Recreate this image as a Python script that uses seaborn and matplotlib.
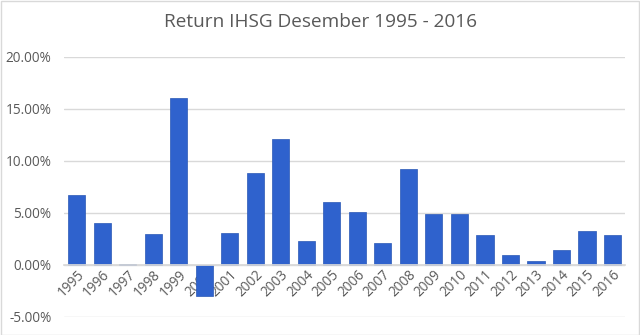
import matplotlib
matplotlib.use("Agg")
import matplotlib.pyplot as plt
import matplotlib.ticker as mticker
from matplotlib.patches import Rectangle
import seaborn as sns
import pandas as pd

years = [str(y) for y in range(1995, 2017)]
returns = [6.74, 3.97, 0.10, 2.96, 16.07, -3.04, 3.06, 8.80, 12.13, 2.26, 6.03,
           5.03, 2.06, 9.25, 4.84, 4.84, 2.87, 0.90, 0.39, 1.45, 3.22, 2.87]
title = "Return IHSG Desember 1995 - 2016"

df = pd.DataFrame({"year": years, "ret": [r / 100 for r in returns]})

sns.set_theme(style="white")
plt.rcParams["font.family"] = ["Open Sans", "DejaVu Sans"]

fig = plt.figure(figsize=(6.4, 3.35), dpi=100)
ax = fig.add_axes([0.10, 0.055, 0.877, 0.775])
sns.barplot(data=df, x="year", y="ret", color="#2F62CD", saturation=1,
            width=0.67, ax=ax, edgecolor="#2A57B5", linewidth=0.5)

ax.set_ylim(-0.05, 0.20)
ax.set_yticks([-0.05, 0, 0.05, 0.10, 0.15, 0.20])
ax.yaxis.set_major_formatter(mticker.FuncFormatter(lambda v, p: f"{v*100:.2f}%"))
ax.set_axisbelow(True)
ax.grid(axis="y", color="#D9D9D9", linewidth=1)
for s in ["top", "right", "left"]:
    ax.spines[s].set_visible(False)
ax.spines["bottom"].set_position(("data", 0))
ax.spines["bottom"].set_color("#D9D9D9")
ax.tick_params(axis="both", length=0, labelsize=9.8, colors="#595959")
ax.tick_params(axis="y", pad=9)
ax.tick_params(axis="x", pad=2)
for lab in ax.get_xticklabels():
    lab.set_rotation(45)
    lab.set_ha("right")
    lab.set_rotation_mode("anchor")
ax.set_xlabel("")
ax.set_ylabel("")
ax.set_xlim(-0.5, len(years) - 0.5)

fig.text(0.5, 0.935, title, ha="center", va="center", fontsize=13.7, color="#595959")
fig.patches.append(Rectangle((0.001, 0.001), 0.997, 0.996, transform=fig.transFigure,
                             fill=False, edgecolor="#D9D9D9", linewidth=1))

fig.savefig("out.png", dpi=100)
